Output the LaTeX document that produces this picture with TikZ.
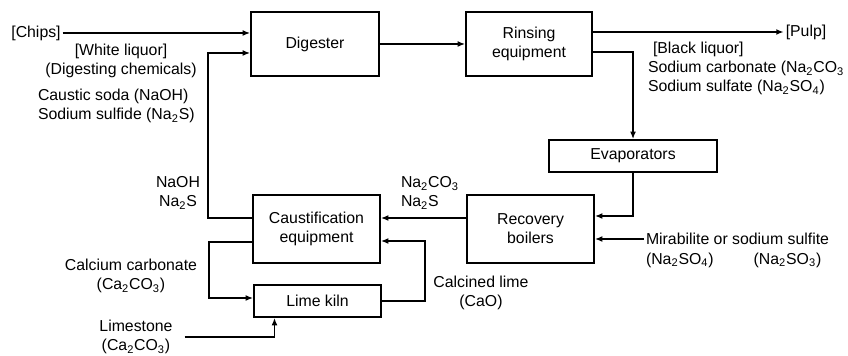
\documentclass[tikz,border=0pt]{standalone}
\usepackage{fontspec}
\setmainfont{Liberation Sans}
\usetikzlibrary{arrows.meta,calc}

\begin{document}
\begin{tikzpicture}[x=0.6pt,y=-0.6pt,>={Latex[length=4.5pt,width=3.5pt]},
  every node/.style={font=\fontsize{9.5}{11.5}\selectfont, inner sep=1pt},
  unit/.style={draw, line width=1pt, align=center, inner sep=2pt},
  flow/.style={->, line width=1pt},
  lbl/.style={align=center}]
  \useasboundingbox (0,0) rectangle (848,356);
  \foreach \n/\x/\y/\w/\h/\lab in {dig/315/44/128/64/Digester, rinse/529/44/126/64/{Rinsing\\equipment}, evap/633/156/168/32/Evaporators, recov/530.5/229/127/68/{Recovery\\boilers}, caust/316.5/229/127/68/{Caustification\\equipment}, kiln/317.5/301/127/32/Lime kiln} {
    \node[unit, minimum width=\w*0.6pt, minimum height=\h*0.6pt] (\n) at (\x,\y) {\lab};
  }
  \node (chips) at (36,33) {[Chips]};
  \node (pulp) at (806,32) {[Pulp]};
  \node[lbl] (wl) at (121,61) {[White liquor]\\(Digesting chemicals)};
  \node[align=left, anchor=west] (cs) at (36,106) {Caustic soda (NaOH)\\Sodium sulfide (Na\textsubscript{2}S)};
  \node[lbl] (naoh) at (178,193) {NaOH\\Na\textsubscript{2}S};
  \node[align=left, anchor=north west] (bl) at (646,40) {\hspace{3pt}[Black liquor]\\Sodium carbonate (Na\textsubscript{2}CO\textsubscript{3}\\Sodium sulfate (Na\textsubscript{2}SO\textsubscript{4})};
  \node[align=left, anchor=west] (naco) at (399,193) {Na\textsubscript{2}CO\textsubscript{3}\\Na\textsubscript{2}S};
  \node[anchor=west] (mira) at (644,239) {Mirabilite or sodium sulfite};
  \node[anchor=north west] (miraf) at ($(mira.south west)+(0,4)$) {(Na\textsubscript{2}SO\textsubscript{4})\hspace{24pt}(Na\textsubscript{2}SO\textsubscript{3})};
  \node[lbl] (cl) at (481,293) {Calcined lime\\(CaO)};
  \node[lbl] (cc) at (131,276) {Calcium carbonate\\(Ca\textsubscript{2}CO\textsubscript{3})};
  \node[lbl] (ls) at (136,337) {Limestone\\(Ca\textsubscript{2}CO\textsubscript{3})};
  % flows
  \draw[flow] (chips) -- (chips -| dig.west);
  \draw[flow] (dig) -- (rinse);
  \draw[flow] ($(rinse.east)+(0,-12)$) -- (pulp);
  \draw[flow] ($(rinse.east)+(0,8)$) -| (evap);
  \draw[flow] (evap) |- ($(recov.east)+(0,-13)$);
  \draw[flow] (mira) -- (mira -| recov.east);
  \draw[flow] ($(recov.west)+(0,-11)$) -- ($(caust.east)+(0,-11)$);
  \draw[flow] ($(caust.west)+(0,-11)$) -- ++(-44,0) |- ($(dig.west)+(0,9)$);
  \draw[flow] (kiln.east) -- ++(43,0) |- ($(caust.east)+(0,12)$);
  \draw[flow] ($(caust.west)+(0,13)$) -- ++(-43,0) |- ($(kiln.west)+(0,-3)$);
  \draw[flow] ($(ls.east)+(10,0)$) -| ($(kiln.south)+(-43,0)$);
\end{tikzpicture}
\end{document}
